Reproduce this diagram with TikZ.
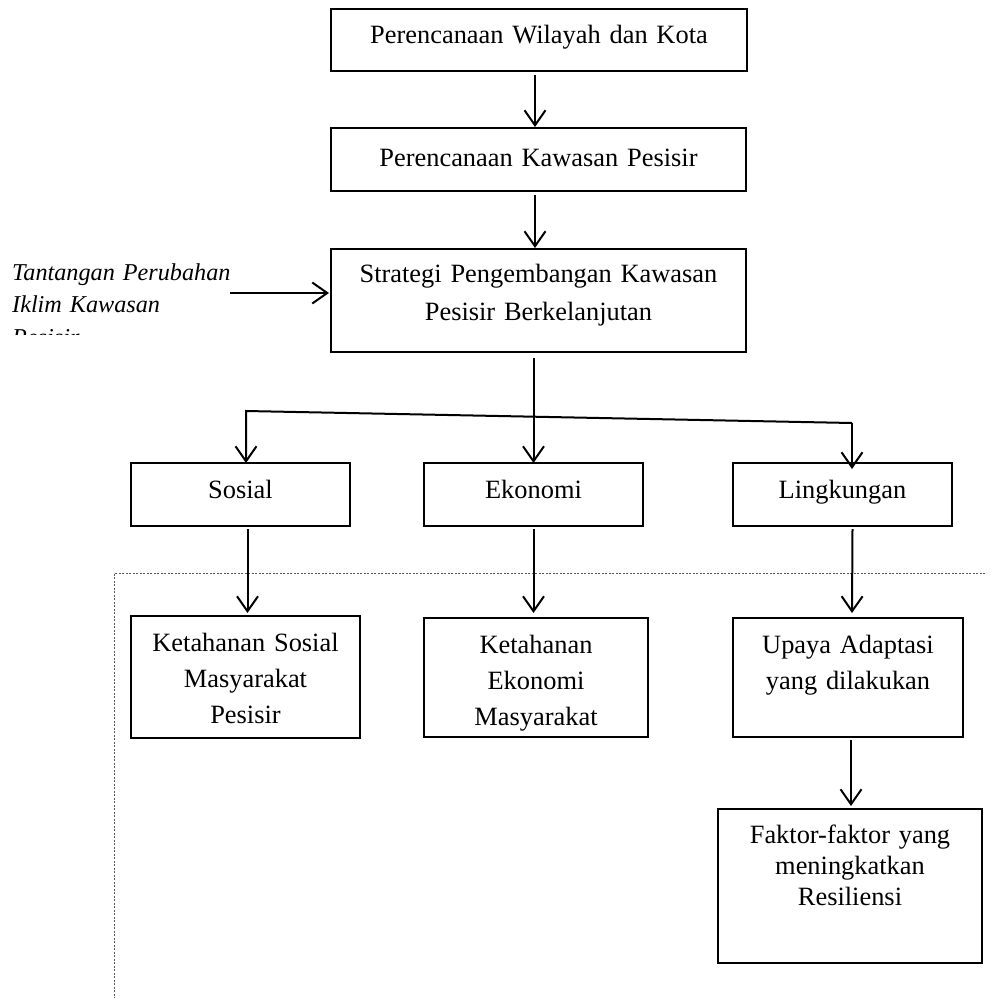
\documentclass[tikz,border=0pt]{standalone}
\usepackage{fontspec}
\setmainfont{Liberation Serif}
\usetikzlibrary{arrows.meta, calc, positioning}

\begin{document}
\begin{tikzpicture}[x=1pt, y=-1pt,
    kotak/.style={draw, line width=2pt, inner sep=0pt, outer sep=0pt, align=center, anchor=north west, font=\fontsize{26.4}{36}\selectfont},
    panah/.style={line width=2pt, -{Straight Barb[length=15pt, width=21pt]}},
    garis titik/.style={gray!70!black, line width=1pt, dash pattern=on 2pt off 1.5pt}]
    \useasboundingbox (0,0) rectangle (990,998);
    % dotted frame, cut off by the page
    \draw[garis titik] (985,573) -- (114,573) -- (114,998);
    % top chain
    \node[kotak, text width=416pt, text height=35pt, text depth=27pt] (wilayah) at (331,9) {Perencanaan Wilayah dan Kota};
    \node[kotak, text width=415pt, text height=38pt, text depth=25pt] (pesisir) at (331,128) {Perencanaan Kawasan Pesisir};
    \node[kotak, text width=415pt, text height=33pt, text depth=70pt, font=\fontsize{26.4}{38}\selectfont] (strategi) at (331,249) {Strategi Pengembangan Kawasan\\Pesisir Berkelanjutan};
    \draw[panah] ($(wilayah.south)+(-4,4)$) -- ($(pesisir.north)+(-3.5,-1)$);
    \draw[panah] ($(pesisir.south)+(-3.5,4)$) -- ($(strategi.north)+(-3.5,-1)$);
    % input from the left (text box clipped at its bottom)
    \begin{scope}
        \clip (0,250) rectangle (330,334);
        \node[anchor=base west, inner sep=0pt, text width=310pt, align=left, font=\itshape\fontsize{24.2}{32.5}\selectfont] (tantangan) at (12,280) {Tantangan Perubahan\\Iklim Kawasan\\Pesisir};
    \end{scope}
    \coordinate (tantangan ujung) at (230,293);
    \draw[panah] (tantangan ujung) -- ($(tantangan ujung -| strategi.west)+(-2,0)$);
    % three aspects
    \foreach \nama/\x/\teks in {sosial/131/Sosial, ekonomi/424/Ekonomi, lingkungan/733/Lingkungan} {
        \node[kotak, text width=219pt, text height=35pt, text depth=28pt] (\nama) at (\x,463) {\teks};
    }
    \coordinate (cabang kiri) at (246,411);
    \coordinate (cabang kanan) at (852,423);
    \draw[panah] ($(strategi.south)+(-5,6)$) -- (ekonomi.north);
    \draw[panah] (cabang kanan) -- (cabang kiri) -- (cabang kiri |- sosial.north);
    \draw[panah] (cabang kanan) -- ($(cabang kanan |- lingkungan.north)+(0,6)$);
    % results
    \node[kotak, text width=229pt, text height=35pt, text depth=87pt] (ketsosial) at (131,616) {Ketahanan Sosial\\Masyarakat\\Pesisir};
    \node[kotak, text width=224pt, text height=35pt, text depth=84pt] (ketekonomi) at (424,618) {Ketahanan\\Ekonomi\\Masyarakat};
    \node[kotak, text width=230pt, text height=35pt, text depth=84pt] (upaya) at (733,618) {Upaya Adaptasi\\yang dilakukan};
    \node[kotak, text width=264pt, text height=34pt, text depth=120pt, font=\fontsize{26.4}{31}\selectfont] (faktor) at (718,809) {Faktor-faktor yang\\meningkatkan\\Resiliensi};
    \draw[panah] ($(sosial.south)+(7,3)$) -- ($(ketsosial.north)+(2,-3)$);
    \draw[panah] ($(ekonomi.south)+(0,3)$) -- ($(ketekonomi.north)+(-2.5,-5)$);
    \draw[panah] ($(lingkungan.south)+(10,3)$) -- ($(upaya.north)+(4,-5)$);
    \draw[panah] ($(upaya.south)+(3,3)$) -- ($(faktor.north)+(1,-3)$);
\end{tikzpicture}
\end{document}
